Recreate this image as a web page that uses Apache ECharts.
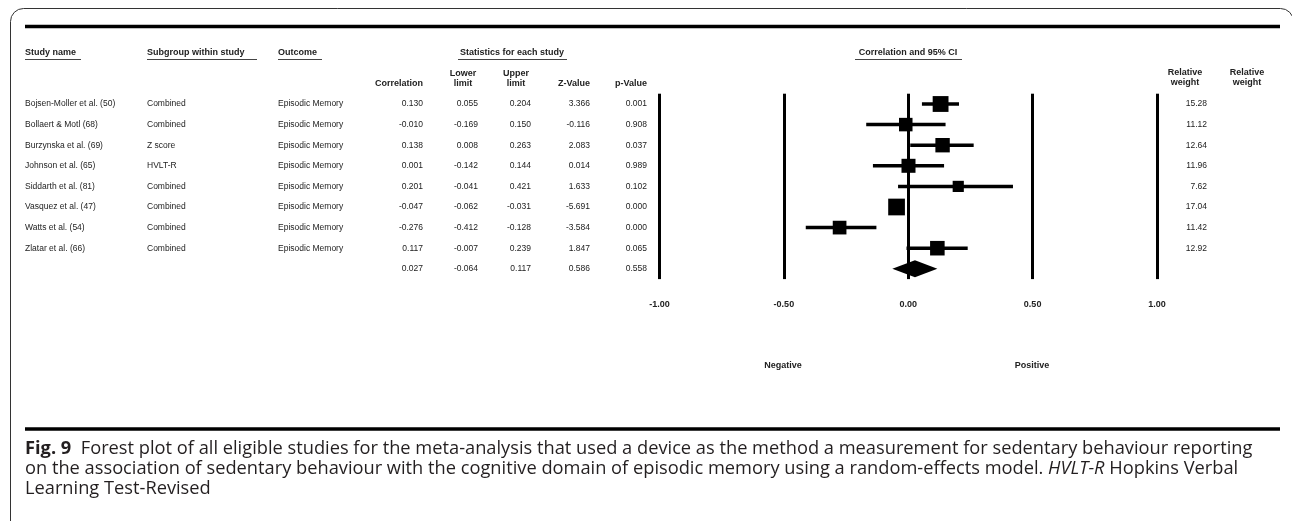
<!DOCTYPE html>
<html>
<head>
<meta charset="utf-8">
<script src="https://cdn.jsdelivr.net/npm/echarts@6/dist/echarts.min.js"></script>
<style>
html,body{margin:0;padding:0;background:#fff;}
#chart{width:1292px;height:521px;}
</style>
</head>
<body>
<div id="chart"></div>
<script>
// ---- data ----
const studies = ['Bojsen-Moller et al. (50)', 'Bollaert & Motl (68)', 'Burzynska et al. (69)', 'Johnson et al. (65)', 'Siddarth et al. (81)', 'Vasquez et al. (47)', 'Watts et al. (54)', 'Zlatar et al. (66)'];
const subgroups = ['Combined', 'Combined', 'Z score', 'HVLT-R', 'Combined', 'Combined', 'Combined', 'Combined'];
const outcomes = ['Episodic Memory', 'Episodic Memory', 'Episodic Memory', 'Episodic Memory', 'Episodic Memory', 'Episodic Memory', 'Episodic Memory', 'Episodic Memory'];
const correlation = [0.130, -0.010, 0.138, 0.001, 0.201, -0.047, -0.276, 0.117];
const lowerLimit = [0.055, -0.169, 0.008, -0.142, -0.041, -0.062, -0.412, -0.007];
const upperLimit = [0.204, 0.150, 0.263, 0.144, 0.421, -0.031, -0.128, 0.239];
const zValues = [3.366, -0.116, 2.083, 0.014, 1.633, -5.691, -3.584, 1.847];
const pValues = [0.001, 0.908, 0.037, 0.989, 0.102, 0.000, 0.000, 0.065];
const weights = [15.28, 11.12, 12.64, 11.96, 7.62, 17.04, 11.42, 12.92];
const summaryStats = [0.027, -0.064, 0.117, 0.586, 0.558]; // correlation, lower, upper, Z, p
const xTicks = [-1, -0.5, 0, 0.5, 1];

// ---- layout / styles ----
const TXT = '"Liberation Sans", Arial, sans-serif';
const BODY = '8.5px ' + TXT;
const HEAD = 'bold 9px ' + TXT;
const INK = '#222';
const colX = {study: 25, sub: 147, out: 278, corr: 423, lo: 478, up: 531, z: 590, p: 647, w: 1207};
const nRows = studies.length + 1;

function txt(x, y, text, align, font, extra) {
  return Object.assign({type: 'text', silent: true, style: {x: x, y: y, text: text, textAlign: align, textVerticalAlign: 'middle', font: font || BODY, fill: INK}}, extra || {});
}
function hline(x1, x2, y, w, color) {
  return {type: 'line', silent: true, shape: {x1: x1, y1: y, x2: x2, y2: y}, style: {stroke: color || INK, lineWidth: w || 1}};
}

const capL1b = 'Fig. 9';
const capL1 = '  Forest plot of all eligible studies for the meta-analysis that used a device as the method a measurement for sedentary behaviour reporting';
const capL2a = 'on the association of sedentary behaviour with the cognitive domain of episodic memory using a random-effects model. ';
const capL2i = 'HVLT-R';
const capL2b = ' Hopkins Verbal';
const capL3 = 'Learning Test-Revised';
const CAPF = '"Open Sans", sans-serif';
const capSize = 18.25;
const CAPC = '#231f20';

const chart = echarts.init(document.getElementById('chart'));

const forestData = studies.map((s, i) => [correlation[i], i, lowerLimit[i], upperLimit[i], weights[i]]);
const summaryData = [[summaryStats[0], studies.length, summaryStats[1], summaryStats[2]]];
const tableData = [];
for (let i = 0; i < nRows; i++) tableData.push([0, i]);

const f3 = v => v.toFixed(3);

const graphics = [
  {type: 'rect', silent: true, shape: {x: 10.5, y: 8.5, width: 1283, height: 530, r: 13}, style: {fill: 'none', stroke: '#333', lineWidth: 1}},
  hline(25, 1280, 26.5, 3.5, '#000'),
  hline(25, 1280, 429, 3.5, '#000'),
  txt(25, 53, 'Study name', 'left', HEAD),
  txt(147, 53, 'Subgroup within study', 'left', HEAD),
  txt(278, 53, 'Outcome', 'left', HEAD),
  txt(512, 53, 'Statistics for each study', 'center', HEAD),
  txt(908, 53, 'Correlation and 95% CI', 'center', HEAD),
  hline(25, 81, 59.5, 1, '#444'),
  hline(147, 257, 59.5, 1, '#444'),
  hline(278, 322, 59.5, 1, '#444'),
  hline(458, 567, 59.5, 1, '#444'),
  hline(855, 962, 59.5, 1, '#444'),
  txt(423, 84, 'Correlation', 'right', HEAD),
  txt(463, 74, 'Lower', 'center', HEAD),
  txt(463, 84, 'limit', 'center', HEAD),
  txt(516, 74, 'Upper', 'center', HEAD),
  txt(516, 84, 'limit', 'center', HEAD),
  txt(590, 84, 'Z-Value', 'right', HEAD),
  txt(647, 84, 'p-Value', 'right', HEAD),
  txt(1185, 73, 'Relative', 'center', HEAD),
  txt(1185, 83, 'weight', 'center', HEAD),
  txt(1247, 73, 'Relative', 'center', HEAD),
  txt(1247, 83, 'weight', 'center', HEAD),
  txt(783, 366, 'Negative', 'center', HEAD),
  txt(1032, 366, 'Positive', 'center', HEAD),
  {type: 'text', silent: true, style: {x: 25, y: 449, textVerticalAlign: 'middle', fill: CAPC,
    text: '{b|' + capL1b + '}{r|' + capL1 + '}',
    rich: {b: {fontFamily: CAPF, fontWeight: 'bold', fontSize: capSize, fill: CAPC}, r: {fontFamily: CAPF, fontSize: capSize, fill: CAPC}}}},
  {type: 'text', silent: true, style: {x: 25, y: 469, textVerticalAlign: 'middle', fill: CAPC,
    text: '{r|' + capL2a + '}{i|' + capL2i + '}{r|' + capL2b + '}',
    rich: {i: {fontFamily: CAPF, fontStyle: 'italic', fontSize: capSize, fill: CAPC}, r: {fontFamily: CAPF, fontSize: capSize, fill: CAPC}}}},
  {type: 'text', silent: true, style: {x: 25, y: 489, textVerticalAlign: 'middle', fill: CAPC, text: capL3, fontFamily: CAPF, fontSize: capSize}}
];

chart.setOption({
  animation: false,
  backgroundColor: '#fff',
  grid: {left: 659.5, right: 1292 - 1157, top: 93.7, height: 185.4},
  xAxis: {
    type: 'value', min: xTicks[0], max: xTicks[xTicks.length - 1], interval: 0.5,
    axisLine: {show: false}, axisTick: {show: false},
    splitLine: {show: true, showMinLine: true, showMaxLine: true, lineStyle: {color: '#000', width: 3, type: 'solid'}},
    axisLabel: {formatter: v => v.toFixed(2), fontFamily: TXT, fontWeight: 'bold', fontSize: 9, color: INK, margin: 21}
  },
  yAxis: {type: 'value', min: -0.5, max: nRows - 0.5, inverse: true, show: false, splitLine: {show: false}},
  series: [
    {
      type: 'custom', silent: true, clip: false, data: forestData, encode: {x: 0, y: 1},
      renderItem: function (params, api) {
        const c = api.coord([api.value(0), api.value(1)]);
        const lo = api.coord([api.value(2), api.value(1)]);
        const hi = api.coord([api.value(3), api.value(1)]);
        const s = 4.05 * Math.sqrt(api.value(4));
        return {type: 'group', children: [
          {type: 'line', shape: {x1: lo[0], y1: lo[1], x2: hi[0], y2: hi[1]}, style: {stroke: '#000', lineWidth: 3.5}},
          {type: 'rect', shape: {x: c[0] - s / 2, y: c[1] - s / 2, width: s, height: s}, style: {fill: '#000'}}
        ]};
      }
    },
    {
      type: 'custom', silent: true, clip: false, data: summaryData, encode: {x: 0, y: 1},
      renderItem: function (params, api) {
        const c = api.coord([api.value(0), api.value(1)]);
        const lo = api.coord([api.value(2), api.value(1)]);
        const hi = api.coord([api.value(3), api.value(1)]);
        const h = 8.5;
        return {type: 'polygon', shape: {points: [[lo[0], c[1]], [c[0], c[1] - h], [hi[0], c[1]], [c[0], c[1] + h]]}, style: {fill: '#000'}};
      }
    },
    {
      type: 'custom', silent: true, clip: false, data: tableData, encode: {x: 0, y: 1},
      renderItem: function (params, api) {
        const i = params.dataIndex;
        const y = api.coord([0, api.value(1)])[1];
        const ch = [];
        let vals;
        if (i < studies.length) {
          ch.push(txt(colX.study, y, studies[i], 'left'));
          ch.push(txt(colX.sub, y, subgroups[i], 'left'));
          ch.push(txt(colX.out, y, outcomes[i], 'left'));
          ch.push(txt(colX.w, y, weights[i].toFixed(2), 'right'));
          vals = [correlation[i], lowerLimit[i], upperLimit[i], zValues[i], pValues[i]];
        } else {
          vals = summaryStats;
        }
        [colX.corr, colX.lo, colX.up, colX.z, colX.p].forEach((x, k) => ch.push(txt(x, y, f3(vals[k]), 'right')));
        return {type: 'group', children: ch};
      }
    }
  ],
  graphic: graphics
});
</script>
</body>
</html>
